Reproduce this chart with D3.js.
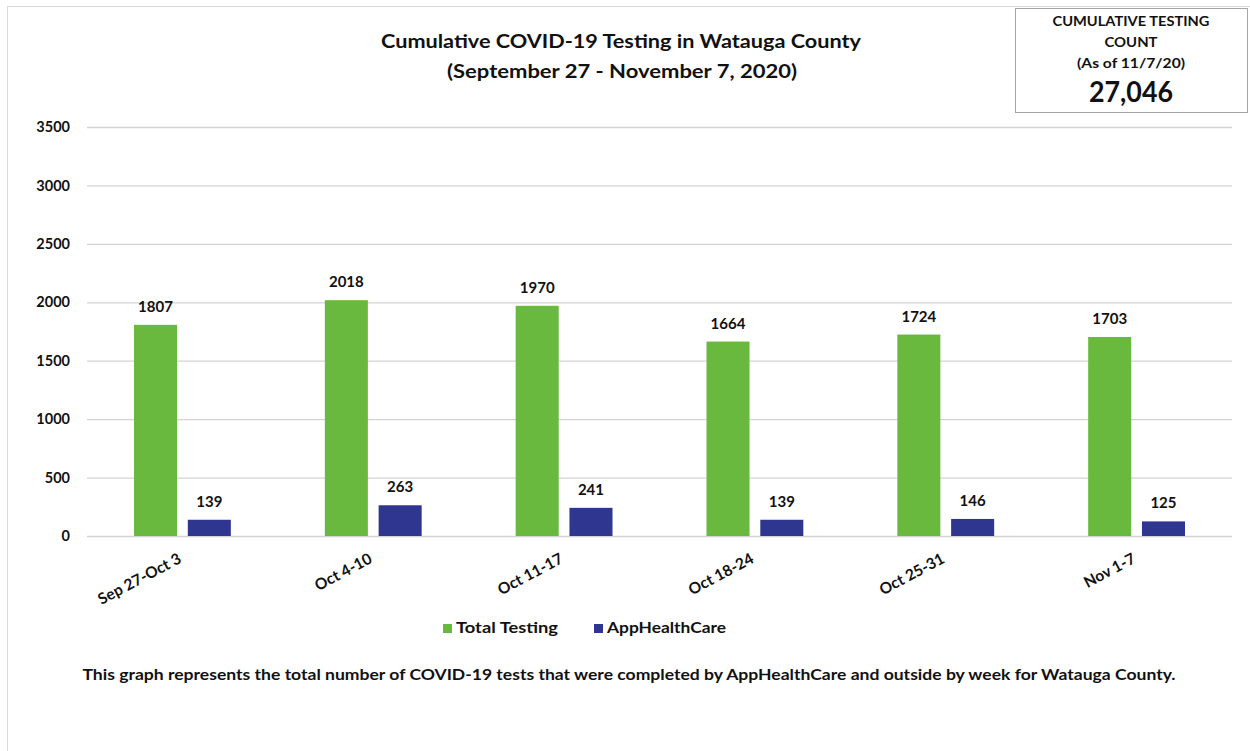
<!DOCTYPE html>
<html>
<head>
<meta charset="utf-8">
<script src="https://cdn.jsdelivr.net/npm/d3@7"></script>
<style>
  body { margin: 0; background: #fff; }
  svg text { font-family: Lato, "Open Sans", sans-serif; font-weight: bold; fill: #111; }
</style>
</head>
<body>
<div id="chart"></div>
<script>
// data
var weeks = ["Sep 27-Oct 3", "Oct 4-10", "Oct 11-17", "Oct 18-24", "Oct 25-31", "Nov 1-7"];
var totalTesting = [1807, 2018, 1970, 1664, 1724, 1703];
var appHealthCare = [139, 263, 241, 139, 146, 125];
var seriesNames = ["Total Testing", "AppHealthCare"];
var seriesColors = ["#6ab93f", "#2e3690"];
var yTicks = [0, 500, 1000, 1500, 2000, 2500, 3000, 3500];

var W = 1250, H = 751;
var margin = { top: 127, right: 18, bottom: 215, left: 87 },
    width  = W - margin.left - margin.right,
    height = H - margin.top - margin.bottom;

var svg = d3.select('#chart').append('svg')
    .attr('width', W)
    .attr('height', H);

// outer frame
svg.append('rect')
    .attr('x', 7.5).attr('y', 6.5)
    .attr('width', W + 10).attr('height', H + 10)
    .attr('fill', 'none')
    .attr('stroke', '#d9d9d9');

var g = svg.append('g')
    .attr('transform', 'translate(' + margin.left + ',' + margin.top + ')');

var x0 = d3.scaleBand().domain(weeks).range([0, width]).paddingInner(0).paddingOuter(0);
var x1 = d3.scaleBand().domain(seriesNames).range([47, x0.bandwidth() - 47]).paddingInner(0.2);
var y  = d3.scaleLinear().domain([0, 3500]).range([height, 0]);

// gridlines + y labels
var yAxis = g.append('g')
    .call(d3.axisLeft(y).tickValues(yTicks).tickSize(-width).tickPadding(17).tickFormat(d3.format('d')));
yAxis.select('.domain').remove();
yAxis.selectAll('.tick line').attr('stroke', '#d4d4d4').attr('stroke-width', 1.3);
yAxis.selectAll('.tick text').attr('font-size', 14.5).style('fill', '#111');

// x labels
var xAxis = g.append('g')
    .attr('transform', 'translate(0,' + height + ')')
    .call(d3.axisBottom(x0).tickSize(0).tickPadding(0));
xAxis.select('.domain').remove();
xAxis.selectAll('.tick text')
    .attr('font-size', 15.5)
    .attr('text-anchor', 'end')
    .attr('dy', 0)
    .attr('transform', 'translate(0,26) rotate(-28)')
    .style('fill', '#111');

var rows = weeks.map(function(w, i) {
    return { week: w, values: [totalTesting[i], appHealthCare[i]] };
});

var grp = g.selectAll('.grp')
    .data(rows)
    .enter()
    .append('g')
        .attr('class', 'grp')
        .attr('transform', d => 'translate(' + x0(d.week) + ',0)');

grp.selectAll('rect')
    .data(d => d.values.map((v, i) => ({ name: seriesNames[i], value: v, color: seriesColors[i] })))
    .enter()
    .append('rect')
        .attr('x', d => x1(d.name))
        .attr('y', d => y(d.value))
        .attr('width', x1.bandwidth())
        .attr('height', d => height - y(d.value))
        .attr('fill', d => d.color);

grp.selectAll('.val')
    .data(d => d.values.map((v, i) => ({ name: seriesNames[i], value: v })))
    .enter()
    .append('text')
        .attr('class', 'val')
        .attr('x', d => x1(d.name) + x1.bandwidth() / 2)
        .attr('y', d => y(d.value) - 13)
        .attr('text-anchor', 'middle')
        .attr('font-size', 15)
        .text(d => d.value);

// title
svg.append('text')
    .attr('x', 621).attr('y', 48)
    .attr('text-anchor', 'middle')
    .attr('font-size', 19)
    .attr('textLength', 480).attr('lengthAdjust', 'spacingAndGlyphs')
    .text('Cumulative COVID-19 Testing in Watauga County');
svg.append('text')
    .attr('x', 622).attr('y', 78)
    .attr('text-anchor', 'middle')
    .attr('font-size', 19)
    .attr('textLength', 350).attr('lengthAdjust', 'spacingAndGlyphs')
    .text('(September 27 - November 7, 2020)');

// cumulative box
svg.append('rect')
    .attr('x', 1015.5).attr('y', 8.5)
    .attr('width', 232).attr('height', 104)
    .attr('fill', '#fff')
    .attr('stroke', '#a6a6a6');
var boxLines = [
    { t: 'CUMULATIVE TESTING', y: 26, s: 13, w: 157 },
    { t: 'COUNT', y: 47, s: 13, w: 53 },
    { t: '(As of 11/7/20)', y: 68, s: 13, w: 108 },
    { t: '27,046', y: 102, s: 28, w: 84 }
];
svg.selectAll('.boxtxt')
    .data(boxLines)
    .enter()
    .append('text')
        .attr('class', 'boxtxt')
        .attr('x', 1131).attr('y', d => d.y)
        .attr('text-anchor', 'middle')
        .attr('font-size', d => d.s)
        .attr('textLength', d => d.w).attr('lengthAdjust', 'spacingAndGlyphs')
        .text(d => d.t);

// legend
var legend = svg.selectAll('.leg')
    .data(seriesNames)
    .enter()
    .append('g')
        .attr('class', 'leg')
        .attr('transform', (d, i) => 'translate(' + (443 + i * 151) + ',623)');
legend.append('rect')
    .attr('width', 9).attr('height', 9)
    .attr('y', 1)
    .attr('fill', (d, i) => seriesColors[i]);
legend.append('text')
    .attr('x', 13).attr('y', 10)
    .attr('font-size', 15)
    .attr('textLength', (d, i) => i === 0 ? 102 : 119).attr('lengthAdjust', 'spacingAndGlyphs')
    .text(d => d);

// footnote
svg.append('text')
    .attr('x', 629).attr('y', 680)
    .attr('text-anchor', 'middle')
    .attr('font-size', 15)
    .attr('textLength', 1093).attr('lengthAdjust', 'spacingAndGlyphs')
    .text('This graph represents the total number of COVID-19 tests that were completed by AppHealthCare and outside by week for Watauga County.');
</script>
</body>
</html>
